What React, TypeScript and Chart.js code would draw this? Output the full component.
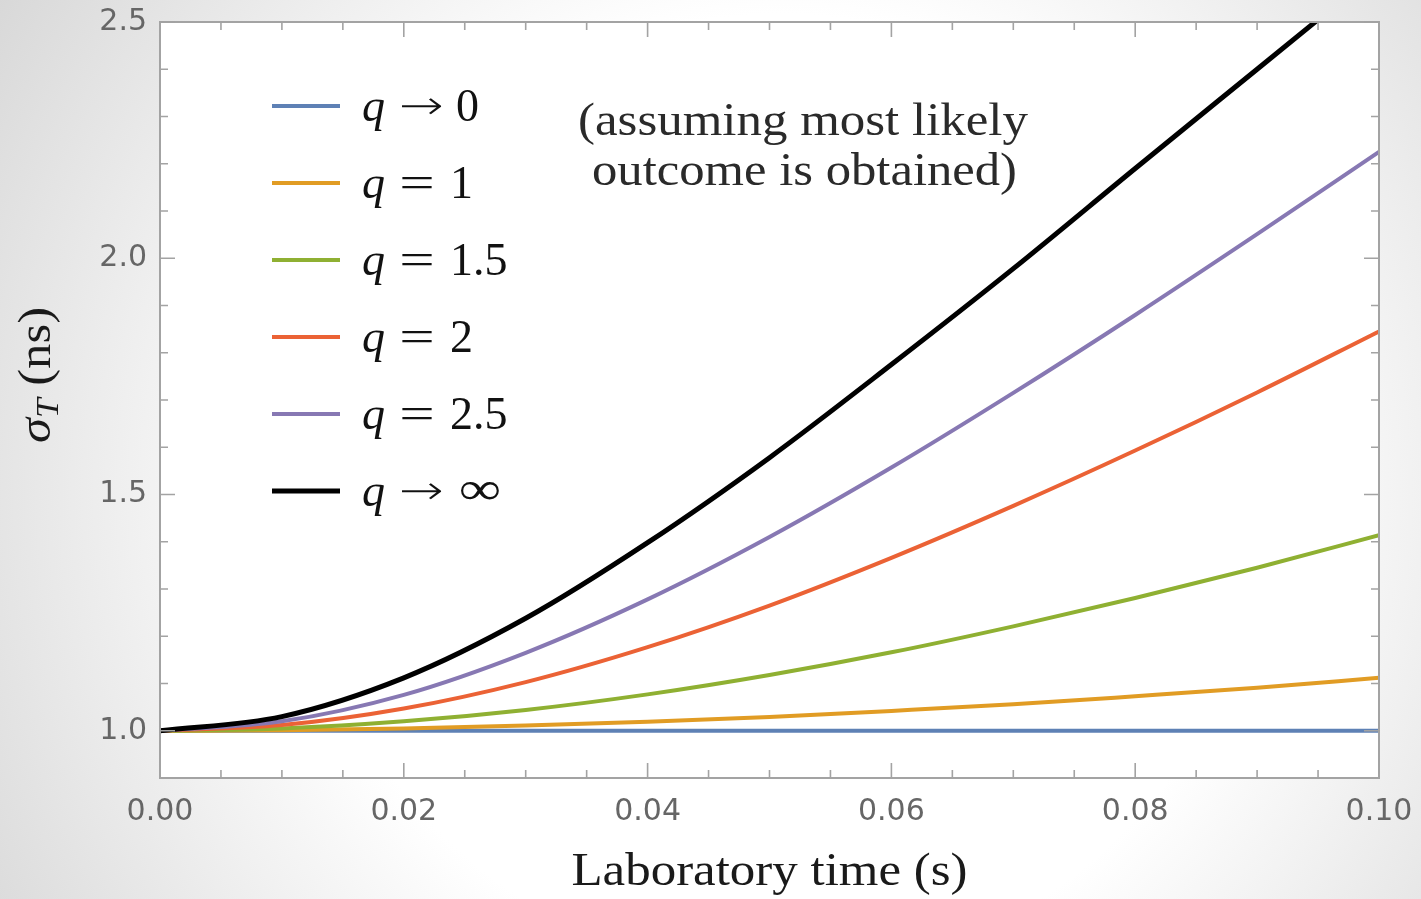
import React, { useEffect, useRef } from "react";
import { Chart, registerables } from "chart.js";

Chart.register(...registerables);

// ---- data ----
const time = [0, 0.01, 0.02, 0.03, 0.04, 0.05, 0.06, 0.07, 0.08, 0.09, 0.1];
const qZero = [1, 1, 1, 1, 1, 1, 1, 1, 1, 1, 1];
const qOne = [1.0, 1.001, 1.005, 1.011, 1.019, 1.029, 1.042, 1.056, 1.073, 1.091, 1.112];
const qOnePointFive = [1.0, 1.005, 1.02, 1.044, 1.077, 1.118, 1.166, 1.221, 1.281, 1.345, 1.414];
const qTwo = [1.0, 1.012, 1.047, 1.103, 1.177, 1.265, 1.366, 1.476, 1.593, 1.716, 1.845];
const qTwoPointFive = [1.0, 1.02, 1.076, 1.165, 1.278, 1.41, 1.557, 1.715, 1.88, 2.051, 2.225];
const qInfinity = [1.0, 1.03, 1.112, 1.238, 1.398, 1.578, 1.775, 1.978, 2.19, 2.40, 2.61];

const seriesValues = [qZero, qOne, qOnePointFive, qTwo, qTwoPointFive, qInfinity];
const seriesRelation = ["\u2192", "=", "=", "=", "=", "\u2192"];
const seriesTarget = ["0", "1", "1.5", "2", "2.5", "\u221E"];
const seriesColors = ["#5e81b5", "#e19c24", "#8fb032", "#eb6235", "#8778b3", "#000000"];
const seriesWidths = [4, 4, 4, 4, 4, 5];

const xMajorTicks = [0, 0.02, 0.04, 0.06, 0.08, 0.1];
const xMinorTicks = [0.005, 0.01, 0.015, 0.025, 0.03, 0.035, 0.045, 0.05, 0.055, 0.065, 0.07, 0.075, 0.085, 0.09, 0.095];
const yMajorTicks = [1.0, 1.5, 2.0, 2.5];
const yMinorTicks = [1.1, 1.2, 1.3, 1.4, 1.6, 1.7, 1.8, 1.9, 2.1, 2.2, 2.3, 2.4];

const xTitle = "Laboratory time (s)";
const noteLines = ["(assuming most likely", "outcome is obtained)"];

const SERIF = "'Liberation Serif', 'Times New Roman', serif";

function fitText(ctx: CanvasRenderingContext2D, text: string, cx: number, y: number, targetW: number) {
  const w = ctx.measureText(text).width;
  ctx.save();
  ctx.translate(cx, y);
  ctx.scale(targetW / w, 1);
  ctx.textAlign = "center";
  ctx.fillText(text, 0, 0);
  ctx.restore();
}

// draw a symbol so that its ink box starts at `left`, has width `targetW`, and is vertically centred on `cy`
function symbolAt(ctx: CanvasRenderingContext2D, sym: string, left: number, cy: number, targetW: number) {
  ctx.save();
  ctx.textAlign = "left";
  ctx.textBaseline = "alphabetic";
  const m = ctx.measureText(sym);
  const inkL = -m.actualBoundingBoxLeft;
  const inkW = m.actualBoundingBoxLeft + m.actualBoundingBoxRight;
  const mid = (m.actualBoundingBoxAscent - m.actualBoundingBoxDescent) / 2;
  const s = targetW / inkW;
  ctx.translate(left, cy + mid);
  ctx.scale(s, 1);
  ctx.fillText(sym, -inkL, 0);
  ctx.restore();
}

const backgroundPlugin = {
  id: "bg",
  beforeDraw(chart: any) {
    const { ctx, width, height, chartArea } = chart;
    ctx.save();
    const g = ctx.createRadialGradient(width * 0.55, height * 0.55, 480, width * 0.55, height * 0.55, 950);
    g.addColorStop(0, "#ffffff");
    g.addColorStop(1, "#d6d6d6");
    ctx.fillStyle = g;
    ctx.fillRect(0, 0, width, height);
    ctx.fillStyle = "#ffffff";
    ctx.fillRect(chartArea.left, chartArea.top, chartArea.right - chartArea.left, chartArea.bottom - chartArea.top);
    ctx.restore();
  },
};

const framePlugin = {
  id: "frame",
  afterDatasetsDraw(chart: any) {
    const { ctx, chartArea } = chart;
    const xs = chart.scales.x;
    const ys = chart.scales.y;
    const { left, right, top, bottom } = chartArea;
    ctx.save();
    ctx.strokeStyle = "#a3a3a3";
    ctx.lineWidth = 2;
    ctx.strokeRect(left, top, right - left, bottom - top);
    ctx.lineWidth = 1.6;
    const tick = (vals: number[], len: number) => {
      vals.forEach((v) => {
        const px = xs.getPixelForValue(v);
        ctx.beginPath();
        ctx.moveTo(px, bottom);
        ctx.lineTo(px, bottom - len);
        ctx.moveTo(px, top);
        ctx.lineTo(px, top + len);
        ctx.stroke();
      });
    };
    const ytick = (vals: number[], len: number) => {
      vals.forEach((v) => {
        const py = ys.getPixelForValue(v);
        ctx.beginPath();
        ctx.moveTo(left, py);
        ctx.lineTo(left + len, py);
        ctx.moveTo(right, py);
        ctx.lineTo(right - len, py);
        ctx.stroke();
      });
    };
    tick(xMajorTicks, 15);
    tick(xMinorTicks, 8);
    ytick(yMajorTicks, 15);
    ytick(yMinorTicks, 8);
    ctx.restore();
  },
  afterDraw(chart: any) {
    const { ctx, chartArea } = chart;
    const cx = (chartArea.left + chartArea.right) / 2;
    ctx.save();
    ctx.textBaseline = "alphabetic";

    // x-axis title
    ctx.fillStyle = "#1a1a1a";
    ctx.font = `46px ${SERIF}`;
    fitText(ctx, xTitle, cx, 885, 396);

    // y-axis title: sigma_T (ns)
    ctx.save();
    ctx.translate(50, 375);
    ctx.rotate(-Math.PI / 2);
    ctx.font = `italic 46px ${SERIF}`;
    const wSig = ctx.measureText("\u03C3").width;
    ctx.font = `italic 32px ${SERIF}`;
    const wT = ctx.measureText("T").width;
    ctx.font = `46px ${SERIF}`;
    const wNs = ctx.measureText(" (ns)").width;
    const total = wSig + wT + wNs;
    const s = 136 / total;
    ctx.scale(s, 1);
    let x0 = -total / 2;
    ctx.textAlign = "left";
    ctx.font = `italic 46px ${SERIF}`;
    ctx.fillText("\u03C3", x0, 0);
    x0 += wSig;
    ctx.font = `italic 32px ${SERIF}`;
    ctx.fillText("T", x0, 8);
    x0 += wT;
    ctx.font = `46px ${SERIF}`;
    ctx.fillText(" (ns)", x0, 0);
    ctx.restore();

    // annotation
    ctx.fillStyle = "#2a2a2a";
    ctx.font = `46px ${SERIF}`;
    fitText(ctx, noteLines[0], 803, 135, 450);
    fitText(ctx, noteLines[1], 804.5, 185, 425);

    // legend
    const rowY0 = 106;
    const rowStep = 77;
    chart.data.datasets.forEach((ds: any, i: number) => {
      const y = rowY0 + i * rowStep;
      ctx.beginPath();
      ctx.strokeStyle = ds.borderColor;
      ctx.lineWidth = ds.borderWidth;
      ctx.moveTo(272, y);
      ctx.lineTo(340, y);
      ctx.stroke();
      ctx.fillStyle = "#111111";
      ctx.textAlign = "left";
      ctx.font = `italic 46px ${SERIF}`;
      ctx.fillText("q", 362, y + 15);
      const rel = seriesRelation[i];
      if (rel === "=") {
        ctx.font = `44px ${SERIF}`;
        symbolAt(ctx, rel, 402, y, 30);
      } else {
        ctx.font = `200 40px 'DejaVu Sans', sans-serif`;
        symbolAt(ctx, rel, 402, y, 40);
      }
      const tgt = seriesTarget[i];
      if (tgt === "\u221E") {
        ctx.font = `46px ${SERIF}`;
        symbolAt(ctx, tgt, 460, y - 1, 40);
      } else {
        ctx.font = `46px ${SERIF}`;
        ctx.fillText(tgt, rel === "=" ? 450 : 456, y + 15);
      }
    });
    ctx.restore();
  },
};

export default function App() {
  const canvasRef = useRef<HTMLCanvasElement | null>(null);

  useEffect(() => {
    const canvas = canvasRef.current;
    if (!canvas) return;
    const chart = new Chart(canvas, {
      type: "line",
      data: {
        datasets: seriesValues.map((vals, i) => ({
          label: "q " + seriesRelation[i] + " " + seriesTarget[i],
          data: time.map((t, k) => ({ x: t, y: vals[k] })),
          borderColor: seriesColors[i],
          backgroundColor: seriesColors[i],
          borderWidth: seriesWidths[i],
          pointRadius: 0,
          fill: false,
          cubicInterpolationMode: "monotone" as const,
          order: 5 - i,
        })),
      },
      options: {
        responsive: false,
        animation: false,
        devicePixelRatio: 1,
        layout: { padding: { top: 22, right: 42, left: 0, bottom: 0 } },
        plugins: { legend: { display: false }, tooltip: { enabled: false } },
        scales: {
          x: {
            type: "linear",
            min: 0,
            max: 0.1,
            grid: { display: false, drawTicks: false },
            border: { display: false },
            ticks: {
              font: { family: "'DejaVu Sans', sans-serif", size: 30 },
              color: "#666666",
              padding: 16,
              maxRotation: 0,
              autoSkip: false,
              callback: (v: any) => Number(v).toFixed(2),
            },
            afterBuildTicks: (s: any) => {
              s.ticks = xMajorTicks.map((v) => ({ value: v }));
            },
            afterFit: (s: any) => {
              s.height = 121;
              s.paddingLeft = 0;
              s.paddingRight = 0;
            },
          },
          y: {
            type: "linear",
            min: 0.9,
            max: 2.5,
            grid: { display: false, drawTicks: false },
            border: { display: false },
            ticks: {
              font: { family: "'DejaVu Sans', sans-serif", size: 30 },
              color: "#666666",
              padding: 13,
              autoSkip: false,
              callback: (v: any) => Number(v).toFixed(1),
            },
            afterBuildTicks: (s: any) => {
              s.ticks = yMajorTicks.map((v) => ({ value: v }));
            },
            afterFit: (s: any) => {
              s.width = 160;
              s.paddingTop = 0;
              s.paddingBottom = 0;
            },
          },
        },
      },
      plugins: [backgroundPlugin, framePlugin],
    });
    return () => chart.destroy();
  }, []);

  return (
    <div style={{ position: "fixed", left: 0, top: 0, width: 1421, height: 899 }}>
      <canvas ref={canvasRef} width={1421} height={899} />
    </div>
  );
}
